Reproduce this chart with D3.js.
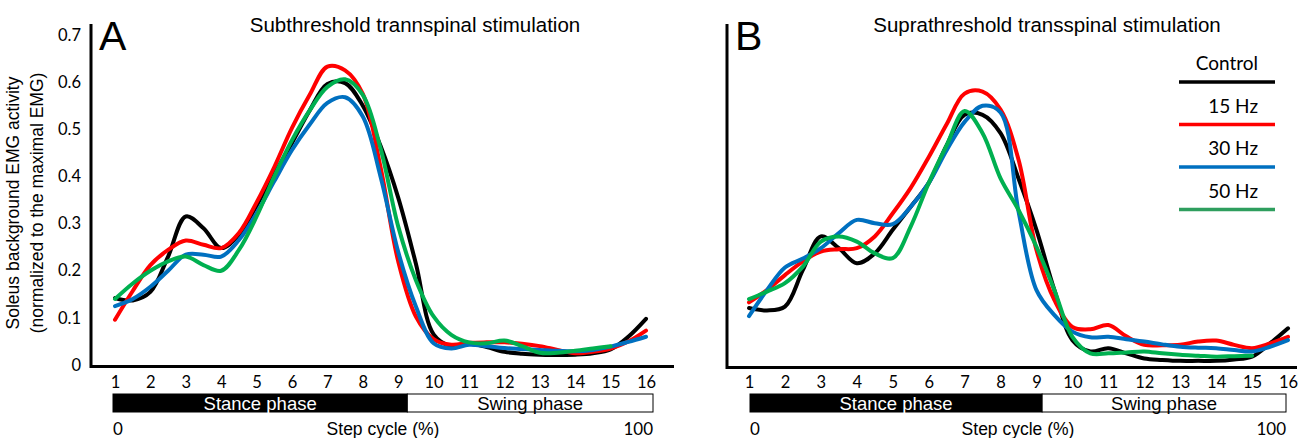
<!DOCTYPE html>
<html>
<head>
<meta charset="utf-8">
<script src="https://cdn.jsdelivr.net/npm/d3@7"></script>
<style>
  body { margin: 0; background: #fff; }
  svg { display: block; }
  .arial { font-family: "Liberation Sans", Arial, sans-serif; }
  .calibri { font-family: Lato, "Open Sans", sans-serif; }
</style>
</head>
<body>
<svg width="1299" height="438"></svg>
<script>
const steps = d3.range(1, 16.01, 0.5)
const tickSteps = d3.range(1, 17)
const yTicks = [0, 0.1, 0.2, 0.3, 0.4, 0.5, 0.6, 0.7]
const seriesNames = ['Control', '15 Hz', '30 Hz', '50 Hz']
const seriesColors = ['#000000', '#ff0000', '#0070c0', '#00b050']
const legendColors = ['#000000', '#ff0000', '#0070c0', '#2e9e5e']
const phases = [{ name: 'Stance phase', from: 0, to: 54.5 }, { name: 'Swing phase', from: 54.5, to: 100 }]

//Panel A, subthreshold
const subControl = [0.142, 0.137, 0.155, 0.23, 0.315, 0.29, 0.248, 0.276, 0.338, 0.405, 0.471, 0.54, 0.596, 0.598, 0.55, 0.465,
  0.355, 0.215, 0.065, 0.04, 0.045, 0.038, 0.028, 0.024, 0.022, 0.021, 0.022, 0.025, 0.033, 0.06, 0.098]
const sub15 = [0.096, 0.157, 0.212, 0.244, 0.264, 0.255, 0.248, 0.28, 0.345, 0.42, 0.503, 0.573, 0.633, 0.625, 0.575, 0.42,
  0.22, 0.103, 0.055, 0.043, 0.047, 0.048, 0.048, 0.045, 0.04, 0.032, 0.025, 0.028, 0.035, 0.05, 0.073]
const sub30 = [0.125, 0.14, 0.166, 0.2, 0.234, 0.234, 0.23, 0.265, 0.322, 0.39, 0.456, 0.51, 0.556, 0.568, 0.527, 0.40,
  0.24, 0.124, 0.046, 0.035, 0.043, 0.04, 0.036, 0.034, 0.032, 0.03, 0.029, 0.032, 0.039, 0.049, 0.06]
const sub50 = [0.14, 0.173, 0.2, 0.22, 0.23, 0.212, 0.2, 0.244, 0.315, 0.40, 0.477, 0.54, 0.59, 0.606, 0.573, 0.46,
  0.294, 0.18, 0.103, 0.064, 0.048, 0.046, 0.052, 0.04, 0.026, 0.026, 0.03, 0.035, 0.04]

//Panel B, suprathreshold
const supraControl = [0.125, 0.12, 0.128, 0.206, 0.277, 0.252, 0.22, 0.241, 0.291, 0.34, 0.39, 0.47, 0.535, 0.535, 0.496, 0.40,
  0.291, 0.163, 0.057, 0.033, 0.04, 0.029, 0.018, 0.015, 0.013, 0.013, 0.013, 0.016, 0.022, 0.05, 0.082]
const supra15 = [0.137, 0.163, 0.195, 0.224, 0.245, 0.25, 0.252, 0.277, 0.326, 0.38, 0.445, 0.515, 0.58, 0.584, 0.546, 0.44,
  0.248, 0.142, 0.085, 0.08, 0.089, 0.065, 0.047, 0.046, 0.047, 0.054, 0.056, 0.047, 0.04, 0.05, 0.064]
const supra30 = [0.108, 0.163, 0.211, 0.23, 0.252, 0.284, 0.312, 0.305, 0.303, 0.34, 0.39, 0.46, 0.52, 0.554, 0.54, 0.33,
  0.163, 0.11, 0.075, 0.063, 0.064, 0.059, 0.054, 0.048, 0.043, 0.041, 0.04, 0.036, 0.033, 0.043, 0.057]
const supra50 = [0.144, 0.16, 0.178, 0.213, 0.266, 0.277, 0.266, 0.241, 0.231, 0.298, 0.39, 0.47, 0.543, 0.496, 0.40, 0.333,
  0.255, 0.163, 0.064, 0.029, 0.029, 0.031, 0.033, 0.029, 0.026, 0.024, 0.022, 0.023, 0.024]

const svg = d3.select('svg')

//Shared y-axis title on the left
const yTitle = svg.append('text')
  .attr('class', 'arial')
  .attr('transform', 'translate(25,203) rotate(-90)')
  .attr('text-anchor', 'middle')
  .style('font-size', '17.5px')
yTitle.append('tspan').attr('x', 0).attr('dy', '-0.35em').text('Soleus background EMG activity')
yTitle.append('tspan').attr('x', 0).attr('dy', '1.35em').text('(normalized to the maximal EMG)')

drawPanel({
  letter: 'A', title: 'Subthreshold trannspinal stimulation',
  axisX: 91, axisRight: 674, axisTop: 24, axisBottom: 366.5,
  xRange: [115, 646], yRange: [365, 35], barRange: [113, 653], titleX: 415,
  series: [subControl, sub15, sub30, sub50], yLabels: true, legend: false
})

drawPanel({
  letter: 'B', title: 'Suprathreshold transspinal stimulation',
  axisX: 727, axisRight: 1297, axisTop: 24, axisBottom: 367.5,
  xRange: [749, 1288], yRange: [367, 37], barRange: [750, 1286], titleX: 1047,
  series: [supraControl, supra15, supra30, supra50], yLabels: false, legend: true
})

function drawPanel(p) {
  const g = svg.append('g')
  const x = d3.scaleLinear().domain([1, 16]).range(p.xRange)
  const y = d3.scaleLinear().domain([0, 0.7]).range(p.yRange)
  const pct = d3.scaleLinear().domain([0, 100]).range(p.barRange)

  //Frame (only left and bottom)
  g.append('path')
    .attr('d', `M${p.axisX},${p.axisTop}V${p.axisBottom}H${p.axisRight}`)
    .attr('fill', 'none')
    .attr('stroke', '#000')
    .attr('stroke-width', 3)

  //Panel letter and title
  g.append('text').attr('class', 'arial')
    .attr('x', p.axisX + 8).attr('y', 50)
    .style('font-size', '41px')
    .text(p.letter)
  g.append('text').attr('class', 'arial')
    .attr('x', p.titleX).attr('y', 32)
    .attr('text-anchor', 'middle')
    .style('font-size', '20.5px')
    .text(p.title)

  //Y tick labels
  if (p.yLabels) {
    const yAxis = g.append('g')
      .attr('transform', `translate(${p.axisX - 7},0)`)
      .call(d3.axisLeft(y).tickValues(yTicks).tickSize(0).tickFormat(d => d === 0 ? '0' : d3.format('.1f')(d)))
    yAxis.select('.domain').remove()
    yAxis.selectAll('text').attr('class', 'calibri').style('font-size', '16.5px').attr('fill', '#000')
  }

  //X tick labels (step numbers)
  const xAxis = g.append('g')
    .attr('transform', 'translate(0,373)')
    .call(d3.axisBottom(x).tickValues(tickSteps).tickSize(0).tickFormat(d3.format('d')))
  xAxis.select('.domain').remove()
  xAxis.selectAll('text').attr('class', 'calibri').style('font-size', '16.5px').attr('fill', '#000')

  //Curves
  const line = d3.line()
    .x((d, i) => x(steps[i]))
    .y(d => y(d))
    .curve(d3.curveCatmullRom.alpha(0.5))
  g.selectAll('.curve')
    .data(p.series)
    .enter().append('path')
    .attr('class', 'curve')
    .attr('d', line)
    .attr('fill', 'none')
    .attr('stroke', (d, i) => seriesColors[i])
    .attr('stroke-width', 4)
    .attr('stroke-linejoin', 'round')
    .attr('stroke-linecap', 'round')

  //Stance / swing bar
  const bar = g.selectAll('.phase').data(phases).enter().append('g').attr('class', 'phase')
  bar.append('rect')
    .attr('x', d => pct(d.from)).attr('y', 394)
    .attr('width', d => pct(d.to) - pct(d.from)).attr('height', 18)
    .attr('fill', (d, i) => i === 0 ? '#000' : '#fff')
    .attr('stroke', '#000').attr('stroke-width', 1)
  bar.append('text').attr('class', 'arial')
    .attr('x', d => (pct(d.from) + pct(d.to)) / 2).attr('y', 409.5)
    .attr('text-anchor', 'middle')
    .style('font-size', '18.5px')
    .attr('fill', (d, i) => i === 0 ? '#fff' : '#000')
    .text(d => d.name)

  //Step cycle percentage labels
  g.append('text').attr('class', 'calibri').attr('x', pct(0)).attr('y', 435)
    .style('font-size', '17px').text('0')
  g.append('text').attr('class', 'calibri').attr('x', pct(100)).attr('y', 435)
    .attr('text-anchor', 'end').style('font-size', '17px').text('100')
  g.append('text').attr('class', 'arial').attr('x', pct(50)).attr('y', 435)
    .attr('text-anchor', 'middle').style('font-size', '17.5px').text('Step cycle (%)')

  //Legend
  if (p.legend) {
    const item = g.selectAll('.legend').data(seriesNames).enter().append('g')
      .attr('class', 'legend')
      .attr('transform', (d, i) => `translate(0,${82 + i * 42.5})`)
    item.append('line')
      .attr('x1', 1179).attr('x2', 1275)
      .attr('stroke', (d, i) => legendColors[i]).attr('stroke-width', 3.5)
    item.append('text').attr('class', 'calibri')
      .attr('x', 1258).attr('y', -12)
      .attr('text-anchor', 'end')
      .style('font-size', '19px')
      .text(d => d)
  }
}
</script>
</body>
</html>
